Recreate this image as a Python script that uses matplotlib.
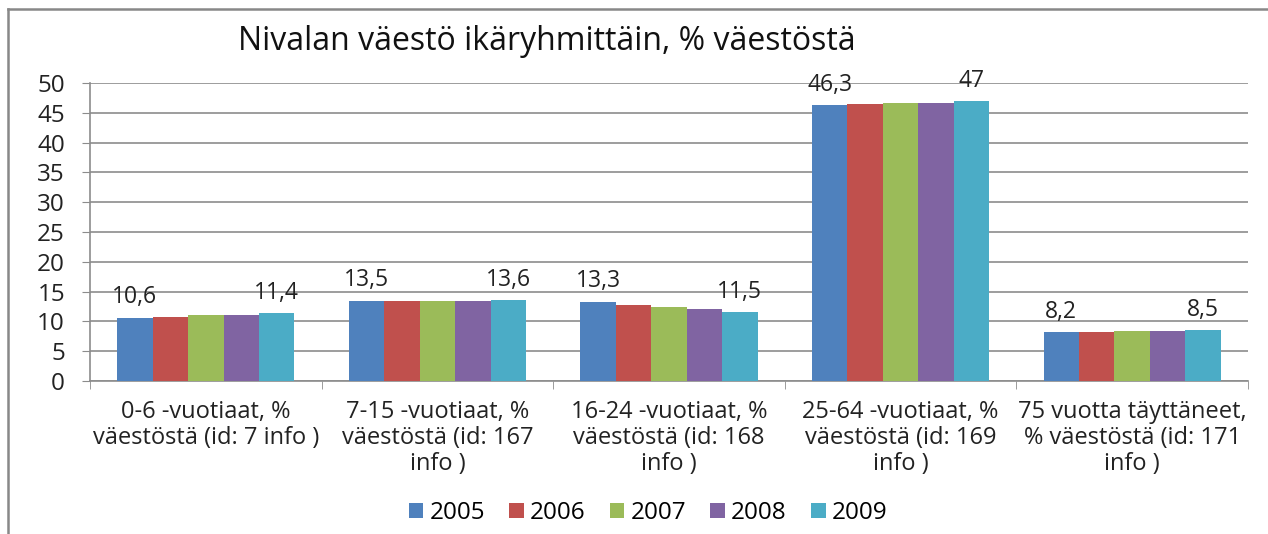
import matplotlib
matplotlib.use("Agg")
import matplotlib.pyplot as plt
from matplotlib.lines import Line2D
import numpy as np

plt.rcParams['font.family'] = ['Open Sans', 'DejaVu Sans']

categories = [
    "0-6 -vuotiaat, %\nväestöstä (id: 7 info )",
    "7-15 -vuotiaat, %\nväestöstä (id: 167\ninfo )",
    "16-24 -vuotiaat, %\nväestöstä (id: 168\ninfo )",
    "25-64 -vuotiaat, %\nväestöstä (id: 169\ninfo )",
    "75 vuotta täyttäneet,\n% väestöstä (id: 171\ninfo )",
]
years = ["2005", "2006", "2007", "2008", "2009"]
v2005 = [10.6, 13.5, 13.3, 46.3, 8.2]
v2006 = [10.7, 13.5, 12.8, 46.5, 8.2]
v2007 = [11.0, 13.5, 12.4, 46.7, 8.4]
v2008 = [11.0, 13.4, 12.1, 46.7, 8.4]
v2009 = [11.4, 13.6, 11.5, 47.0, 8.5]
series = [v2005, v2006, v2007, v2008, v2009]
colors = ["#4F81BD", "#C0504D", "#9BBB59", "#8064A2", "#4BACC6"]
title = "Nivalan väestö ikäryhmittäin, % väestöstä"

W, H = 1268, 534
fig = plt.figure(figsize=(W / 100, H / 100), dpi=100)
ax = fig.add_axes([90 / W, 1 - 381 / H, (1248 - 90) / W, (381 - 83) / H])

n = len(categories)
centers = np.arange(n) + 0.5
bw = 0.153
offsets = (np.arange(len(series)) - 2) * bw
grid_c = "#8c8c8c"
txt_c = "#222222"

for i, (vals, c, yr) in enumerate(zip(series, colors, years)):
    ax.bar(centers + offsets[i], vals, width=bw, color=c, label=yr,
           zorder=3, linewidth=0)
    if i in (0, len(series) - 1):
        for x, v in zip(centers + offsets[i], vals):
            s = ("%g" % v).replace(".", ",")
            ax.annotate(s, (x, v), xytext=(0, 6), textcoords="offset points",
                        ha="center", va="bottom", fontsize=16.5, color=txt_c)

ax.set_xlim(0, n)
ax.set_ylim(0, 50)
ax.set_yticks(range(0, 51, 5))
ax.yaxis.grid(True, color=grid_c, linewidth=1.2, zorder=0)
ax.set_axisbelow(True)
ax.set_xticks(centers)
ax.set_xticklabels(categories, fontsize=17, color=txt_c, linespacing=1.1, va="top")
ax.set_xticks(np.arange(n + 1), minor=True)
ax.tick_params(axis="x", which="major", length=0, pad=14)
ax.tick_params(axis="x", which="minor", length=6, color=grid_c, direction="out")
ax.tick_params(axis="y", length=6, color=grid_c, labelsize=17.5, labelcolor=txt_c, pad=12)
for s in ["top", "right"]:
    ax.spines[s].set_visible(False)
ax.spines["left"].set_color(grid_c)
ax.spines["bottom"].set_color(grid_c)
ax.spines["left"].set_linewidth(1.2)
ax.spines["bottom"].set_linewidth(1.2)

fig.text(547 / W, 1 - 41 / H, title, ha="center", va="center", fontsize=23, color="#111111")

fig.legend(loc="center", bbox_to_anchor=(648 / W, 1 - 513 / H), ncol=5, frameon=False,
           fontsize=17.5, handlelength=0.6, handleheight=0.6, handletextpad=0.25,
           columnspacing=1.0)

fig.add_artist(Line2D([8 / W, 1], [1 - 9 / H, 1 - 9 / H], transform=fig.transFigure,
                      color="#888888", linewidth=1.8))
fig.add_artist(Line2D([8 / W, 8 / W], [0, 1 - 9 / H], transform=fig.transFigure,
                      color="#888888", linewidth=1.8))

fig.savefig("out.png", dpi=100, facecolor="white")
